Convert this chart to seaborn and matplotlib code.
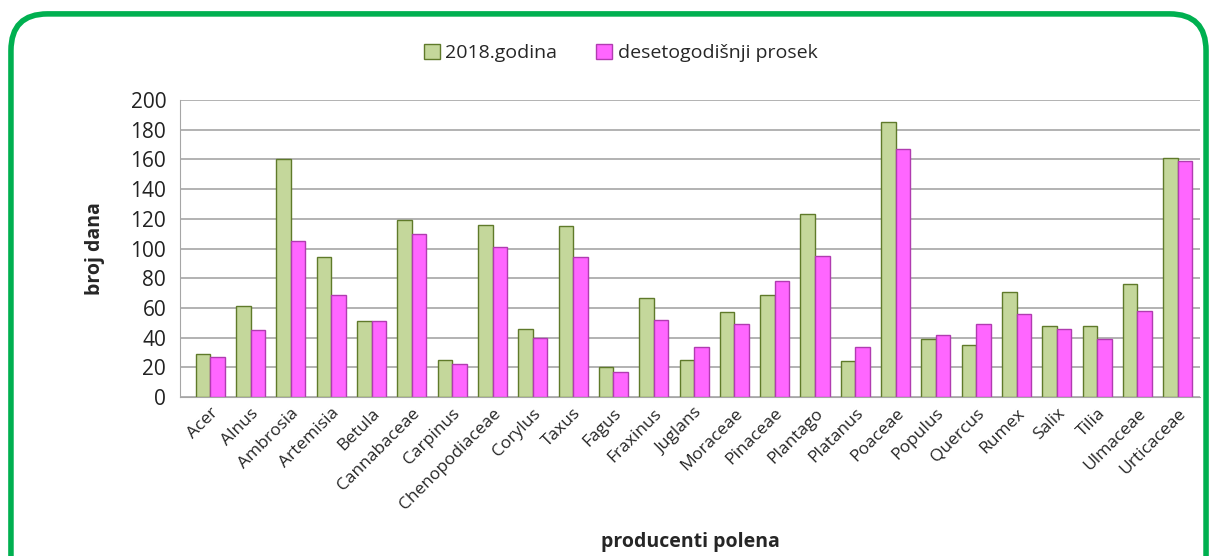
import pandas as pd
import numpy as np
import matplotlib.pyplot as plt
import seaborn as sns
from matplotlib.patches import FancyBboxPatch

taxa = ["Acer", "Alnus", "Ambrosia", "Artemisia", "Betula", "Cannabaceae",
        "Carpinus", "Chenopodiaceae", "Corylus", "Taxus", "Fagus", "Fraxinus",
        "Juglans", "Moraceae", "Pinaceae", "Plantago", "Platanus", "Poaceae",
        "Populus", "Quercus", "Rumex", "Salix", "Tilia", "Ulmaceae", "Urticaceae"]
god_2018 = [29, 61, 160, 94, 51, 119, 25, 116, 46, 115, 20, 67, 25, 57, 69,
            123, 24, 185, 39, 35, 71, 48, 48, 76, 161]
prosek = [27, 45, 105, 69, 51, 110, 22, 101, 40, 94, 17, 52, 34, 49, 78,
          95, 34, 167, 42, 49, 56, 46, 39, 58, 159]
series = ["2018.godina", "desetogodišnji prosek"]

df = pd.DataFrame({"takson": taxa * 2,
                   "dani": god_2018 + prosek,
                   "serija": [series[0]] * len(taxa) + [series[1]] * len(taxa)})

sns.set_style("white")
plt.rcParams["font.family"] = ["Open Sans", "DejaVu Sans"]

fig = plt.figure(figsize=(12.17, 5.56), dpi=100)
ax = fig.add_axes([0.148, 0.286, 0.838, 0.534])

sns.barplot(data=df, x="takson", y="dani", hue="serija",
            palette=["#c4d79b", "#ff66ff"], width=0.72, ax=ax,
            edgecolor="none", saturation=1)
# darker edges per series
for cont, ec in zip(ax.containers, ["#5f7a2a", "#b03cb0"]):
    for b in cont:
        b.set_edgecolor(ec)
        b.set_linewidth(1.0)

ax.set_xlim(-0.75, len(taxa) - 0.45)
ax.set_ylim(0, 200)
ax.set_yticks(range(0, 201, 20))
ax.yaxis.grid(True, color="#a6a6a6", linewidth=1.2)
ax.set_axisbelow(True)
for s in ["top", "right"]:
    ax.spines[s].set_visible(False)
ax.spines["left"].set_color("#a6a6a6")
ax.spines["bottom"].set_color("#a6a6a6")
ax.tick_params(axis="y", labelsize=15, colors="#222222", length=0, pad=10)
ax.tick_params(axis="x", labelsize=12.5, length=0, pad=6)
plt.setp(ax.get_xticklabels(), rotation=45, ha="right", rotation_mode="anchor")
ax.set_xlabel("producenti polena", fontsize=14, fontweight="bold", labelpad=14)
ax.set_ylabel("broj dana", fontsize=14, fontweight="bold", labelpad=18)

leg = fig.legend(*ax.get_legend_handles_labels(), loc="center",
                 bbox_to_anchor=(0.51, 0.905), ncol=2,
                 frameon=False, fontsize=14, handlelength=0.8, handleheight=0.8,
                 columnspacing=2.0, handletextpad=0.3)
ax.get_legend().remove()
for h, ec in zip(leg.legend_handles, ["#5f7a2a", "#b03cb0"]):
    h.set_edgecolor(ec)

frame = FancyBboxPatch((0.009, -0.1), 0.982, 1.075, transform=fig.transFigure,
                       boxstyle="round,pad=0,rounding_size=0.03",
                       facecolor="none", edgecolor="#00b050", linewidth=4,
                       mutation_aspect=2.2, clip_on=False)
fig.patches.append(frame)

fig.savefig("out.png", dpi=100)
